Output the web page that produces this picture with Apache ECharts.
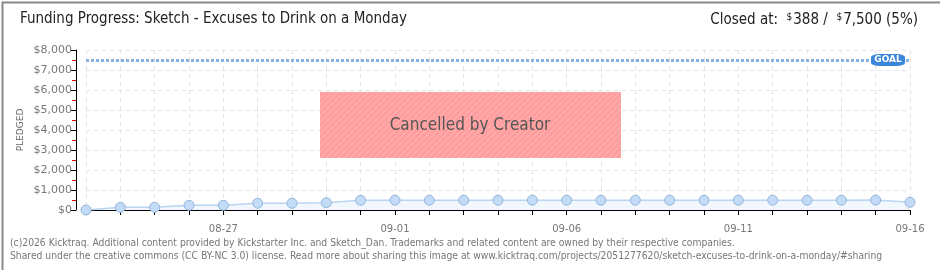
<!DOCTYPE html>
<html><head><meta charset="utf-8">
<script src="https://cdn.jsdelivr.net/npm/echarts@6/dist/echarts.min.js"></script>
<style>html,body{margin:0;padding:0;background:#fff}#c{width:940px;height:270px}</style>
</head><body><div id="c"></div>
<script>
const dates = ['08-23','08-24','08-25','08-26','08-27','08-28','08-29','08-30','08-31','09-01','09-02','09-03','09-04','09-05','09-06','09-07','09-08','09-09','09-10','09-11','09-12','09-13','09-14','09-15','09-16'];
const pledged = [0,135,135,235,235,335,335,365,485,490,490,490,490,490,490,490,490,490,490,490,490,490,490,495,388];
const goal = 7500;
const yTicks = {min:0, max:8000, interval:1000};
const titleText = 'Funding Progress: Sketch - Excuses to Drink on a Monday';
const footer1 = '(c)2026 Kicktraq. Additional content provided by Kickstarter Inc. and Sketch_Dan. Trademarks and related content are owned by their respective companies.';
const footer2 = 'Shared under the creative commons (CC BY-NC 3.0) license. Read more about sharing this image at www.kicktraq.com/projects/2051277620/sketch-excuses-to-drink-on-a-monday/#sharing';

// subtle diagonal stripe pattern for the cancelled overlay
const pc = document.createElement('canvas'); pc.width = 6; pc.height = 6;
const px = pc.getContext('2d');
px.fillStyle = '#ff9e9e'; px.fillRect(0,0,6,6);
px.strokeStyle = 'rgba(255,200,200,0.55)'; px.lineWidth = 1;
px.beginPath(); px.moveTo(0,6); px.lineTo(6,0); px.moveTo(-3,3); px.lineTo(3,-3); px.moveTo(3,9); px.lineTo(9,3); px.stroke();

const chart = echarts.init(document.getElementById('c'));
const narrow = '"Liberation Sans Narrow","DejaVu Sans Condensed",sans-serif';
chart.setOption({
  animation:false,
  graphic:[
    {type:'rect',left:0,top:0,shape:{width:939,height:269},style:{fill:'none',stroke:'#888',lineWidth:2},z:-1},
    {type:'text',left:20,top:12,style:{text:titleText,font:'15px '+narrow,fill:'#222'}},
    {type:'text',right:22,top:12,style:{text:'{a|Closed at:  }{s|$}{a|388 /  }{s|$}{a|7,500 (5%)}',
      rich:{a:{font:'15px '+narrow,fill:'#222'},s:{font:'10px '+narrow,fill:'#222',verticalAlign:'top',padding:[0,1,6,0]}}}},
    {type:'text',x:21,y:130,rotation:Math.PI/2,
      style:{text:'PLEDGED',font:'9px "DejaVu Sans"',fill:'#666',align:'center',verticalAlign:'middle'}},
    {type:'rect',left:320,top:92,shape:{width:301,height:66},style:{fill:{image:pc,repeat:'repeat'}},z:10},
    {type:'text',x:470,y:126,z:11,style:{text:'Cancelled by Creator',font:'17px '+narrow,fill:'#555',
      align:'center',verticalAlign:'middle',textShadowColor:'#fff',textShadowOffsetX:1,textShadowOffsetY:1,textShadowBlur:0}},
    {type:'text',left:10,top:238,style:{text:footer1,font:'10.25px "DejaVu Sans Condensed", sans-serif',fill:'#777'}},
    {type:'text',left:10,top:251,style:{text:footer2,font:'10.25px "DejaVu Sans Condensed", sans-serif',fill:'#777'}}
  ],
  grid:{left:86,right:30,top:50,bottom:60},
  xAxis:{type:'category',data:dates,boundaryGap:false,offset:10,
    axisLine:{lineStyle:{color:'#000',width:1}},
    axisTick:{show:true,interval:0,length:5,lineStyle:{color:'#000'}},
    axisLabel:{interval:(i)=>(i-4)%5===0,color:'#777',fontSize:10,fontFamily:'DejaVu Sans',margin:4},
    splitLine:{show:true,interval:0,lineStyle:{color:'#e3e3e3',type:[4,4]}}},
  yAxis:{type:'value',min:yTicks.min,max:yTicks.max,interval:yTicks.interval,offset:10,
    axisLine:{show:true,lineStyle:{color:'#000'}},
    axisTick:{show:true,length:5,lineStyle:{color:'#000'}},
    minorTick:{show:true,splitNumber:2,length:4,lineStyle:{color:'#d00'}},
    axisLabel:{color:'#777',fontSize:11,fontFamily:'DejaVu Sans',margin:4,formatter:v=>'$'+v.toLocaleString('en-US')},
    splitLine:{lineStyle:{color:'#e3e3e3',type:[4,4]}}},
  series:[{type:'line',data:pledged,symbol:'circle',symbolSize:10,
    lineStyle:{color:'#b9d5f2',width:1.5},
    itemStyle:{color:'#c2dcf7',borderColor:'#94b4d8',borderWidth:1},
    areaStyle:{color:'#edf4fc'},
    markLine:{silent:true,symbol:'none',data:[{yAxis:goal}],label:{show:false},
      lineStyle:{color:'#88b2e6',type:[3,2],width:3}},
    markPoint:{silent:true,data:[{coord:[dates[dates.length-1],goal]}],symbol:'roundRect',symbolSize:[34,12],symbolOffset:[-22,0],
      itemStyle:{color:'#3b86d8'},label:{show:true,formatter:'GOAL',color:'#fff',fontSize:9,fontWeight:'bold',fontFamily:'DejaVu Sans'}}
  }]
});
</script></body></html>
